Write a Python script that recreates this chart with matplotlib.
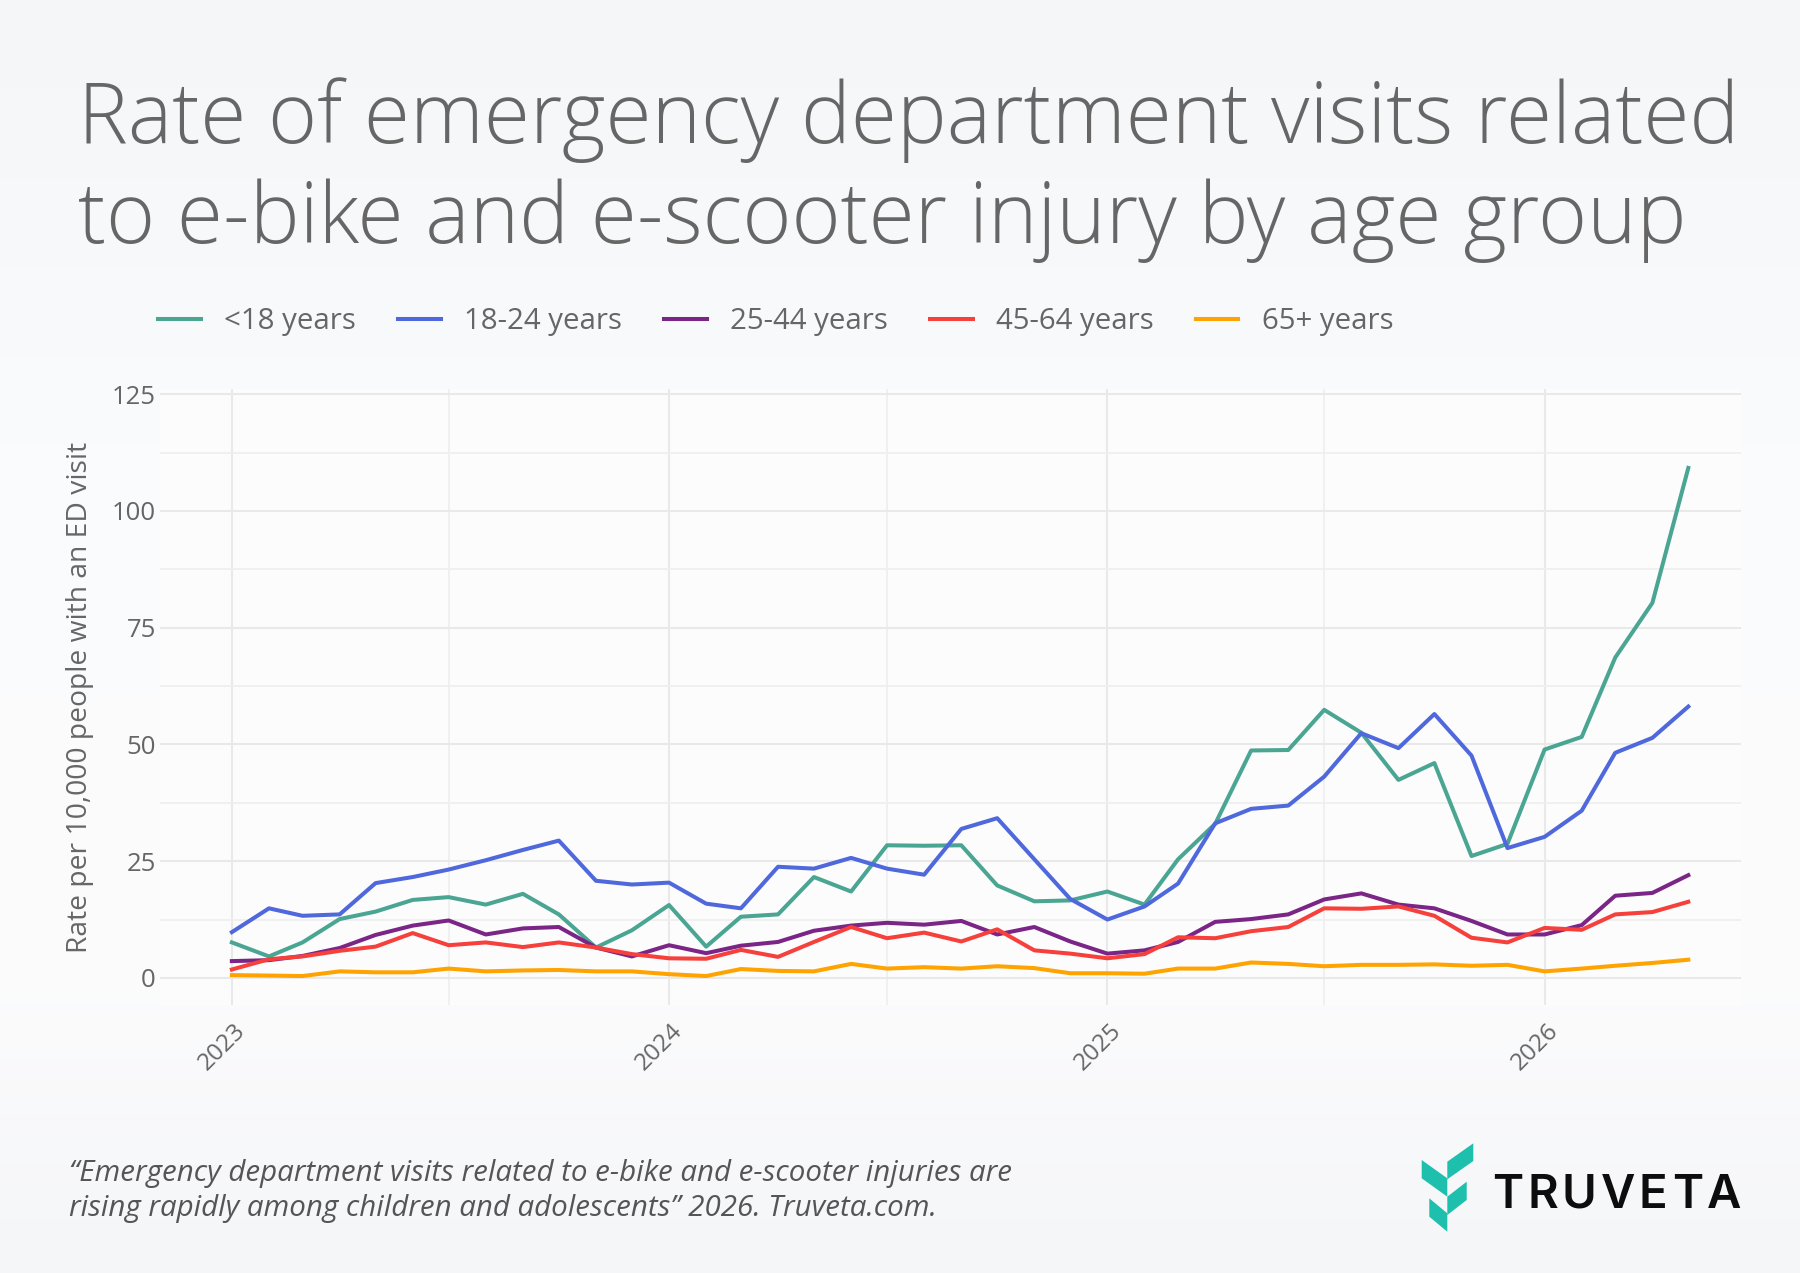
import numpy as np
import pandas as pd
import matplotlib
matplotlib.use("Agg")
import matplotlib.pyplot as plt
from matplotlib.patches import Polygon
from matplotlib.lines import Line2D
from matplotlib.transforms import ScaledTranslation

# ---------------- data ----------------
months = pd.date_range("2023-01-01", periods=41, freq="MS")

series_names = ["<18 years", "18-24 years", "25-44 years", "45-64 years", "65+ years"]
series_colors = ["#4aa592", "#4f68dc", "#7b2586", "#f6403c", "#ffa300"]

under_18 = [7.6, 4.6, 7.6, 12.6, 14.2, 16.7, 17.3, 15.7, 18.0, 13.6, 6.5, 10.2,
            15.6, 6.7, 13.1, 13.6, 21.6, 18.5, 28.4, 28.3, 28.4, 19.8, 16.4, 16.6,
            18.5, 15.7, 25.4, 33.0, 48.7, 48.8, 57.4, 52.5, 42.4, 46.0, 26.1, 28.7,
            48.9, 51.6, 68.6, 80.3, 109.2]
age_18_24 = [9.8, 14.9, 13.3, 13.6, 20.3, 21.6, 23.2, 25.2, 27.4, 29.4, 20.8, 20.0,
             20.4, 15.9, 14.9, 23.8, 23.4, 25.7, 23.4, 22.1, 31.9, 34.2, 25.4, 16.9,
             12.5, 15.3, 20.2, 33.1, 36.2, 36.9, 43.1, 52.4, 49.2, 56.5, 47.6, 27.8,
             30.2, 35.8, 48.2, 51.4, 58.1]
age_25_44 = [3.6, 3.8, 4.7, 6.4, 9.2, 11.2, 12.3, 9.3, 10.6, 10.9, 6.5, 4.6,
             7.0, 5.3, 6.9, 7.7, 10.1, 11.2, 11.8, 11.4, 12.2, 9.3, 10.9, 7.8,
             5.2, 5.9, 7.7, 12.0, 12.6, 13.6, 16.8, 18.1, 15.7, 14.9, 12.2, 9.3,
             9.3, 11.3, 17.6, 18.2, 22.0]
age_45_64 = [1.8, 4.0, 4.6, 5.8, 6.7, 9.6, 7.0, 7.6, 6.6, 7.6, 6.5, 5.1,
             4.2, 4.1, 6.0, 4.5, 7.7, 10.9, 8.5, 9.7, 7.8, 10.4, 5.9, 5.2,
             4.2, 5.1, 8.7, 8.5, 10.0, 10.9, 14.9, 14.8, 15.3, 13.3, 8.6, 7.6,
             10.7, 10.3, 13.6, 14.1, 16.3]
age_65_plus = [0.6, 0.5, 0.4, 1.4, 1.2, 1.2, 2.0, 1.4, 1.6, 1.7, 1.4, 1.4,
               0.8, 0.4, 1.9, 1.5, 1.4, 3.0, 2.0, 2.3, 2.0, 2.5, 2.1, 1.0,
               1.0, 0.9, 2.0, 2.0, 3.3, 3.0, 2.5, 2.8, 2.8, 2.9, 2.6, 2.8,
               1.4, 2.0, 2.6, 3.2, 3.9]

y_ticks = [0, 25, 50, 75, 100, 125]
x_tick_years = ["2023", "2024", "2025", "2026"]

title_lines = ["Rate of emergency department visits related",
               "to e-bike and e-scooter injury by age group"]
y_label = "Rate per 10,000 people with an ED visit"
source_lines = ["\u201cEmergency department visits related to e-bike and e-scooter injuries are",
                "rising rapidly among children and adolescents\u201d 2026. Truveta.com."]
brand = "TRUVETA"

# ---------------- figure ----------------
W, H = 1800, 1273
plt.rcParams["font.family"] = ["Open Sans", "DejaVu Sans"]
fig = plt.figure(figsize=(W / 100, H / 100), dpi=100)

def fx(px):
    return px / W

def fy(py):
    return 1 - py / H

# background gradient
bg = fig.add_axes([0, 0, 1, 1], zorder=-10)
stops = np.array([0.0, 0.35, 0.75, 1.0])
cols = np.array([[244, 246, 248], [250, 251, 252], [252, 252, 253], [245, 246, 248]]) / 255
t = np.linspace(0, 1, 400)
grad = np.stack([np.interp(t, stops, cols[:, i]) for i in range(3)], axis=1)
bg.imshow(grad[:, None, :], aspect="auto", extent=[0, 1, 0, 1])
bg.set_axis_off()

left, right, top, bottom = 160, 1741, 389, 1005
ax = fig.add_axes([fx(left), fy(bottom), fx(right) - fx(left), (bottom - top) / H])
ax.set_facecolor("#fcfcfd")

all_series = [under_18, age_18_24, age_25_44, age_45_64, age_65_plus]
for vals, name, c in zip(all_series, series_names, series_colors):
    ax.plot(months, vals, color=c, lw=2.9, label=name, solid_joinstyle="round", zorder=3)

ax.set_ylim(-5.8, 126.1)
ax.set_xlim(pd.Timestamp("2022-11-02"), pd.Timestamp("2026-06-14"))

ax.set_yticks(y_ticks)
ax.set_yticks([12.5, 37.5, 62.5, 87.5, 112.5], minor=True)
major_x = [pd.Timestamp(f"{y}-01-01") for y in x_tick_years]
minor_x = [pd.Timestamp(f"{y}-07-01") for y in x_tick_years[:-1]]
ax.set_xticks(major_x)
ax.set_xticklabels(x_tick_years)
ax.set_xticks(minor_x, minor=True)

ax.grid(True, which="major", color="#e9e9ea", lw=1.5, zorder=0)
ax.grid(True, which="minor", color="#efeff0", lw=1.3, zorder=0)
ax.set_axisbelow(True)
for s in ax.spines.values():
    s.set_visible(False)
ax.tick_params(which="both", length=0)
ax.tick_params(axis="y", labelsize=18.5, labelcolor="#666666", pad=3)
ax.tick_params(axis="x", labelsize=17.5, labelcolor="#666666", pad=16)
for lab in ax.get_xticklabels():
    lab.set_rotation(45)
    lab.set_ha("right")
    lab.set_va("center")
    lab.set_rotation_mode("anchor")
    lab.set_transform(lab.get_transform() + ScaledTranslation(0.10, 0, fig.dpi_scale_trans))

ax.set_ylabel(y_label, fontsize=20.3, color="#666666")
ax.yaxis.set_label_coords((94 - left) / (right - left), 0.5)

# title
for line, base in zip(title_lines, [143, 243]):
    fig.text(fx(78), fy(base), line, fontsize=60.3, fontweight="light", color="#666666", va="baseline")

# legend
handles = [Line2D([0], [0], color=c, lw=2.9) for c in series_colors]
fig.legend(handles, series_names, loc="center left", bbox_to_anchor=(fx(158), fy(322)),
           ncol=5, frameon=False, fontsize=21.2, labelcolor="#666666",
           handlelength=1.45, handletextpad=0.8, columnspacing=1.42,
           borderpad=0, borderaxespad=0)

# source
for line, base in zip(source_lines, [1181, 1216]):
    fig.text(fx(69), fy(base), line, fontsize=21.25, style="italic", color="#555555", va="baseline")

# logo mark
teal = "#1fbfae"
leaves = [
    [(1447.3, 1161.7), (1473.3, 1143.3), (1473.3, 1161.0), (1447.3, 1179.3)],
    [(1421.7, 1160.0), (1447.3, 1178.3), (1447.3, 1196.7), (1421.7, 1178.3)],
    [(1447.3, 1196.7), (1466.7, 1181.7), (1466.7, 1200.0), (1447.3, 1215.0)],
    [(1429.3, 1198.3), (1447.3, 1213.3), (1447.3, 1231.7), (1429.3, 1216.7)],
]
for pts in leaves:
    fig.add_artist(Polygon([(fx(x), fy(y)) for x, y in pts], closed=True,
                           facecolor=teal, edgecolor="none", transform=fig.transFigure))

# brand word with letter spacing
renderer = fig.canvas.get_renderer()
xpos = 1492.0
spacing = 4.0
for ch in brand:
    tt = fig.text(fx(xpos), fy(1208), ch, fontsize=34, fontweight="semibold",
                  family=["Inter", "DejaVu Sans"], color="#0d0d0d", va="baseline")
    bb = tt.get_window_extent(renderer=renderer)
    xpos += bb.width + spacing

fig.savefig("out.png", dpi=100, facecolor=fig.get_facecolor())
